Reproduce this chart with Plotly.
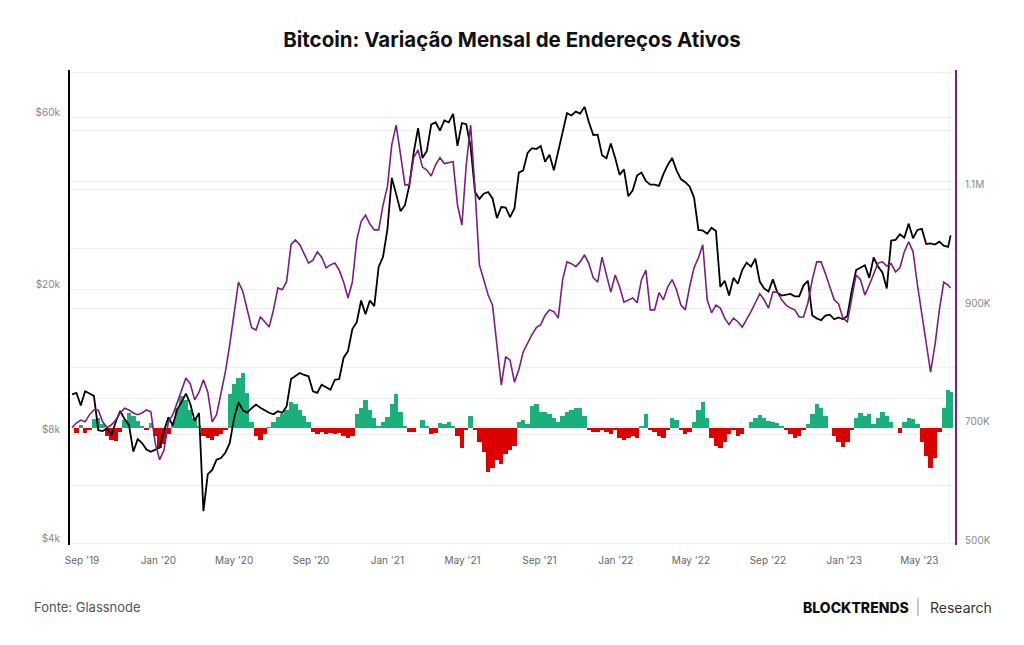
import pandas as pd
import plotly.graph_objects as go

# ---------------- data (weekly samples) ----------------
week_start = "2019-08-16"
last_day = "2023-06-20"

btc_price = [
    # 2019
    10300, 10400, 9600, 10500, 10350, 10200, 8200, 8150, 8300, 7950, 8650, 9260, 8800, 8480,
    7150, 7750, 7550, 7250, 7150, 7250,
    # 2020
    7340, 8170, 8900, 8450, 9350, 9800, 10350, 9700, 8700, 9150, 4900, 6200, 6370,
    6800, 6870, 7100, 7550, 8850, 9800, 9300, 9170, 9430, 9650, 9460, 9300, 9160,
    9070, 9250, 9150, 9550, 11350, 11600, 11800, 11650, 11550, 10500, 10400, 10950, 10750,
    10600, 11300, 11350, 13000, 13550, 15600, 16300, 18700, 17150, 18700, 18050, 23150, 24700,
    # 2021
    29400, 40800, 36800, 33000, 34300, 38900, 47900, 56000, 46300, 48400, 57300, 58100, 55100,
    58800, 58100, 61300, 50000, 57800, 57400, 49700, 37300, 35700, 36900, 37300, 35800, 31600,
    33900, 33800, 31800, 33600, 42200, 42800, 47800, 49300, 49000, 50000, 45200, 47300, 42800,
    48200, 53900, 61600, 60700, 62200, 61400, 64100, 58100, 53600, 53700, 47100, 46200, 50800, 46300,
    # 2022
    41600, 43100, 36300, 37700, 41400, 42200, 40000, 39100, 39100, 38800, 41800, 44300,
    46300, 42800, 40500, 39700, 38600, 36000, 29300, 29200, 28600, 29700, 29100, 20400, 21200,
    19300, 21600, 20800, 22700, 23800, 23200, 24400, 21100, 20200, 19800, 21400, 19700, 19300, 19400,
    19500, 19200, 19200, 20600, 21200, 17000, 16700, 16500, 17000, 17100, 16600, 16800, 16600,
    # 2023
    16950, 19900, 22700, 23100, 23400, 21600, 24600, 23200, 22350, 20200, 27400, 27500, 28500,
    27900, 30500, 27800, 29300, 29500, 26800, 26900, 26700, 27200, 26500, 26300,
    28300,
]

active_addresses = [
    698, 706, 711, 708, 720, 728, 728, 708, 698, 703, 711, 723, 731, 728, 723, 720, 723, 728, 725, 672,
    644, 660, 708, 720, 740, 762, 782, 772, 745, 758, 779, 758, 708, 720, 758, 792, 838, 894, 944, 928,
    897, 867, 863, 885, 877, 868, 897, 934, 931, 945, 1007, 1015, 1007, 990, 976, 981, 995, 986, 968, 973,
    976, 964, 944, 917, 944, 1015, 1046, 1057, 1042, 1032, 1032, 1074, 1105, 1176, 1209, 1159, 1108, 1108, 1154, 1167,
    1138, 1133, 1123, 1142, 1154, 1144, 1145, 1147, 1074, 1040, 1142, 1209, 1100, 973, 948, 922, 905, 838, 770, 818,
    812, 775, 796, 826, 841, 855, 867, 872, 888, 897, 894, 883, 948, 978, 975, 970, 978, 990, 975, 951,
    944, 986, 956, 927, 956, 936, 910, 914, 917, 909, 948, 964, 897, 897, 926, 914, 936, 948, 931, 905,
    897, 936, 968, 985, 1007, 914, 892, 905, 900, 883, 872, 883, 877, 868, 880, 894, 909, 924, 914, 900,
    927, 927, 914, 905, 900, 897, 885, 885, 909, 948, 978, 978, 958, 936, 914, 907, 883, 877, 919, 956,
    948, 922, 939, 956, 976, 978, 971, 975, 961, 968, 995, 1012, 995, 939, 888, 838, 792, 838, 897, 944,
    939, 934,
]
active_addresses = [v * 1000 for v in active_addresses]

monthly_change_pct = [
    0, -2.5, 1.5, -2.5, -1, 4.5, 5, 2, -4, -6, -6.5, -2, 4, 7.5, 6, 3.5, 1, -1, 2.5, -4,
    -10, -8, -3, 3, 10, 16, 14, 9, 5, 1, -4, -5, -6, -4, -3, -1, 17, 22, 25, 27.5,
    17.5, 3, -4, -6, -3, 0.5, 3, 5.5, 7, 9, 13, 12, 9, 6, 3, -2, -3, -2, -3, -2.5,
    -3, -2.5, -4, -5, -4, 7, 10, 14, 9, 5, 1, 3, 5.5, 12, 17, 8, 1, -2, -2, 0,
    4, 1, -3, -2.5, 2.5, 2, 3, 1, -4, -10, -1, 6, -1, -7, -12, -22, -20, -16, -18, -13,
    -11, -9, 3, 4, 2, 11, 12, 8, 8, 7, 5, 3, 6, 8, 9, 10, 10, 6, -1, -2,
    -2, -1, -2, -3, -1, -5, -6, -5, -4, -5, 1, 7, -1, -2, -4, -5, -1, 5, 4, -1,
    -3, -2, 3, 9, 13, 5, -5, -9, -10, -7, -3, -1, -4, -3, 0, 3, 5, 6.5, 5, 3.5,
    3, 2.5, 1, -1, -3, -5, -4, -1, 2, 7, 12, 10, 6, 0, -4, -7, -9.5, -7, -1, 5,
    7.5, 6, 7, 2, 5, 8, 6, 3, 0, -2.5, 3, 5, 4.5, 2, -7, -14, -20, -15, -2, 10,
    19, 18,
]

x_tick_dates = ["2019-09-01", "2020-01-01", "2020-05-01", "2020-09-01", "2021-01-01", "2021-05-01",
                "2021-09-01", "2022-01-01", "2022-05-01", "2022-09-01", "2023-01-01", "2023-05-01"]
x_tick_labels = ["Sep '19", "Jan '20", "May '20", "Sep '20", "Jan '21", "May '21",
                 "Sep '21", "Jan '22", "May '22", "Sep '22", "Jan '23", "May '23"]

price_ticks = [4000, 8000, 10000, 20000, 40000, 60000, 80000]
price_labels = ["$4k", "$8k", "", "$20k", "", "$60k", ""]
addr_ticks = [500000, 600000, 700000, 800000, 900000, 1000000, 1100000, 1200000]
addr_labels = ["500K", "", "700K", "", "900K", "", "1.1M", ""]

# ---------------- figure ----------------
dates = list(pd.date_range(week_start, periods=len(btc_price) - 1, freq="7D")) + [pd.Timestamp(last_day)]

GREEN = "#19b07b"
RED = "#dd0000"
PURPLE = "#7a1f80"
FONT = "Inter"

bar_colors = [GREEN if v >= 0 else RED for v in monthly_change_pct]

fig = go.Figure()
fig.add_trace(go.Bar(
    x=dates, y=monthly_change_pct, marker=dict(color=bar_colors, line=dict(width=0)),
    width=7 * 86400000, yaxis="y", showlegend=False, hoverinfo="skip"))
fig.add_trace(go.Scatter(
    x=dates, y=active_addresses, mode="lines", line=dict(color=PURPLE, width=1.6),
    yaxis="y3", showlegend=False))
fig.add_trace(go.Scatter(
    x=dates, y=btc_price, mode="lines", line=dict(color="#000000", width=1.8),
    yaxis="y2", showlegend=False))

grid = "#eeeeee"
fig.update_layout(
    width=1024, height=645,
    margin=dict(l=70, r=69, t=70, b=100),
    paper_bgcolor="white", plot_bgcolor="white",
    font=dict(family=FONT),
    bargap=0,
    title=dict(text="<b>Bitcoin: Variação Mensal de Endereços Ativos</b>",
               x=0.5, xanchor="center", xref="container",
               y=1 - 40 / 645, yanchor="middle", yref="container",
               font=dict(family=FONT, size=20.5, color="#111111")),
    xaxis=dict(type="date", range=["2019-08-12 19:00", "2023-06-27 00:00"],
               tickvals=x_tick_dates, ticktext=x_tick_labels,
               showgrid=False, showline=False, zeroline=False, ticks="",
               ticklabelstandoff=8,
               tickfont=dict(size=10, color="#666666")),
    yaxis=dict(range=[-58.5, 179], visible=False, showgrid=False, zeroline=False),
    yaxis2=dict(type="log", range=[3.5966, 4.9087], overlaying="y", side="left",
                tickvals=price_ticks, ticktext=price_labels,
                showgrid=True, gridcolor=grid, gridwidth=1, zeroline=False,
                showline=True, linecolor="#000000", linewidth=2, ticks="",
                ticklabelshift=-5, ticklabelstandoff=6,
                tickfont=dict(size=10, color="#888888")),
    yaxis3=dict(range=[500000, 1302000], overlaying="y", side="right",
                tickvals=addr_ticks, ticktext=addr_labels,
                showgrid=True, gridcolor=grid, gridwidth=1, zeroline=False,
                showline=True, linecolor=PURPLE, linewidth=2, ticks="",
                ticklabelshift=-5, ticklabelstandoff=6,
                tickfont=dict(size=10, color="#888888")),
)

def px_x(px):
    return (px - 70) / 885

def px_y(py):
    return (545 - py) / 475

fig.add_annotation(text="Fonte: Glassnode", xref="paper", yref="paper",
                   x=px_x(32), y=px_y(607), xanchor="left", yanchor="middle", showarrow=False,
                   font=dict(family=FONT, size=13, color="#555555"))
fig.add_annotation(text="BLOCKTRENDS", xref="paper", yref="paper",
                   x=px_x(911), y=px_y(607), xanchor="right", yanchor="middle", showarrow=False,
                   font=dict(family=FONT, size=14, color="#111111", weight=800))
fig.add_annotation(text="Research", xref="paper", yref="paper",
                   x=px_x(928), y=px_y(607), xanchor="left", yanchor="middle", showarrow=False,
                   font=dict(family=FONT, size=14, color="#333333"))
fig.add_shape(type="line", xref="paper", yref="paper",
              x0=px_x(918), x1=px_x(918), y0=px_y(598), y1=px_y(616),
              line=dict(color="#999999", width=1))

fig.write_html("out.html")
